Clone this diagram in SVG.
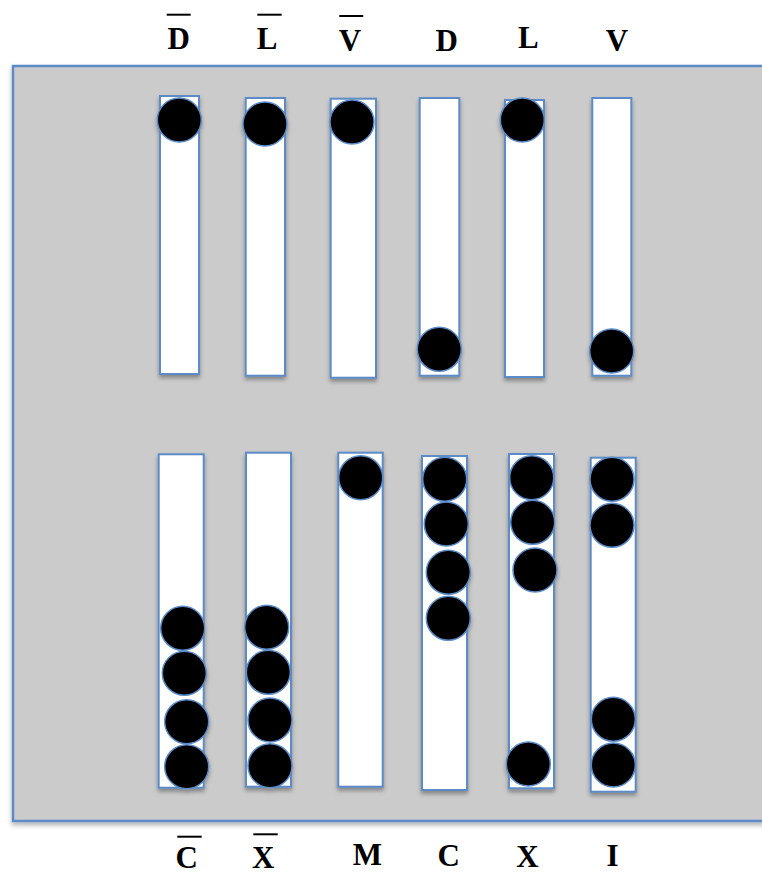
<svg xmlns="http://www.w3.org/2000/svg" width="762" height="874" viewBox="0 0 762 874">
<defs>
<filter id="sh" x="-30%" y="-10%" width="160%" height="130%">
<feDropShadow dx="0" dy="3" stdDeviation="2" flood-color="#000" flood-opacity="0.35"/>
</filter>
<filter id="shb" x="-5%" y="-5%" width="110%" height="110%">
<feDropShadow dx="0" dy="3" stdDeviation="2.5" flood-color="#000" flood-opacity="0.3"/>
</filter>
</defs>
<style>
.board{fill:#cbcbcb;stroke:#5b8bc7;stroke-width:2.5}
.rod{fill:#ffffff;stroke:#5b8bc7;stroke-width:2}
.bead{fill:#000000;stroke:#5b8bc7;stroke-width:1.5}
.lbl{font-family:"Liberation Serif","DejaVu Serif",serif;font-weight:bold;font-size:31px;fill:#000;text-anchor:middle}
.bar{stroke:#000;stroke-width:2}
</style>
<rect width="762" height="874" fill="#ffffff"/>
<g id="board" filter="url(#shb)">
<rect class="board" x="13" y="66" width="760" height="755"/>
</g>
<g id="labels-top">
<text class="lbl" x="178.7" y="49">D</text><line class="bar" x1="166.7" y1="14.7" x2="190.7" y2="14.7"/>
<text class="lbl" x="267" y="49">L</text><line class="bar" x1="257.3" y1="14.7" x2="281.7" y2="14.7"/>
<text class="lbl" x="350" y="51">V</text><line class="bar" x1="339.3" y1="16" x2="363.3" y2="16"/>
<text class="lbl" x="446.7" y="51">D</text>
<text class="lbl" x="528.3" y="47.5">L</text>
<text class="lbl" x="617" y="51">V</text>
</g>
<g id="labels-bottom">
<text class="lbl" x="186.7" y="867.5">C</text><line class="bar" x1="177.3" y1="836.7" x2="201.7" y2="836.7"/>
<text class="lbl" x="263.3" y="867.5">X</text><line class="bar" x1="253.3" y1="834.3" x2="277.7" y2="834.3"/>
<text class="lbl" x="367.5" y="865">M</text>
<text class="lbl" x="448.8" y="865.5">C</text>
<text class="lbl" x="527.5" y="867">X</text>
<text class="lbl" x="612.5" y="866">I</text>
</g>
<g id="rod-Dbar" filter="url(#sh)">
<rect class="rod" x="160" y="96" width="39" height="278"/>
<circle class="bead" cx="179.3" cy="120" r="22"/>
</g>
<g id="rod-Lbar" filter="url(#sh)">
<rect class="rod" x="245.7" y="98" width="39.3" height="277.7"/>
<circle class="bead" cx="265" cy="124" r="22"/>
</g>
<g id="rod-Vbar" filter="url(#sh)">
<rect class="rod" x="330.7" y="98.7" width="45.3" height="279"/>
<circle class="bead" cx="352" cy="122" r="22"/>
</g>
<g id="rod-D" filter="url(#sh)">
<rect class="rod" x="419.7" y="98" width="39.6" height="277.7"/>
<circle class="bead" cx="439.3" cy="349.3" r="22"/>
</g>
<g id="rod-L" filter="url(#sh)">
<rect class="rod" x="505" y="100" width="39" height="277"/>
<circle class="bead" cx="522.3" cy="120" r="22"/>
</g>
<g id="rod-V" filter="url(#sh)">
<rect class="rod" x="592.3" y="98" width="39" height="277.7"/>
<circle class="bead" cx="611.7" cy="351" r="22"/>
</g>
<g id="rod-Cbar" filter="url(#sh)">
<rect class="rod" x="158.7" y="454.3" width="45" height="333.4"/>
<circle class="bead" cx="182.7" cy="628.3" r="22"/>
<circle class="bead" cx="184.3" cy="673.3" r="22"/>
<circle class="bead" cx="186.7" cy="721.7" r="22"/>
<circle class="bead" cx="186.7" cy="766.7" r="22"/>
</g>
<g id="rod-Xbar" filter="url(#sh)">
<rect class="rod" x="246" y="452.7" width="45" height="334"/>
<circle class="bead" cx="266.7" cy="627.3" r="22"/>
<circle class="bead" cx="268.3" cy="672.3" r="22"/>
<circle class="bead" cx="270" cy="720" r="22"/>
<circle class="bead" cx="270" cy="765.7" r="22"/>
</g>
<g id="rod-M" filter="url(#sh)">
<rect class="rod" x="338.3" y="452.7" width="44.4" height="334"/>
<circle class="bead" cx="360.7" cy="477.7" r="22"/>
</g>
<g id="rod-C" filter="url(#sh)">
<rect class="rod" x="422" y="456" width="45" height="334"/>
<circle class="bead" cx="444.7" cy="479.3" r="22"/>
<circle class="bead" cx="446.3" cy="524" r="22"/>
<circle class="bead" cx="448.3" cy="572.3" r="22"/>
<circle class="bead" cx="448.3" cy="618.3" r="22"/>
</g>
<g id="rod-X" filter="url(#sh)">
<rect class="rod" x="509" y="454" width="45" height="334.3"/>
<circle class="bead" cx="531.7" cy="477.7" r="22"/>
<circle class="bead" cx="532.7" cy="522.3" r="22"/>
<circle class="bead" cx="535" cy="570" r="22"/>
<circle class="bead" cx="528.3" cy="764" r="22"/>
</g>
<g id="rod-I" filter="url(#sh)">
<rect class="rod" x="590.7" y="457.7" width="45" height="334"/>
<circle class="bead" cx="612" cy="479.3" r="22"/>
<circle class="bead" cx="612" cy="525.3" r="22"/>
<circle class="bead" cx="613.3" cy="719.3" r="22"/>
<circle class="bead" cx="613.3" cy="765" r="22"/>
</g>
</svg>
